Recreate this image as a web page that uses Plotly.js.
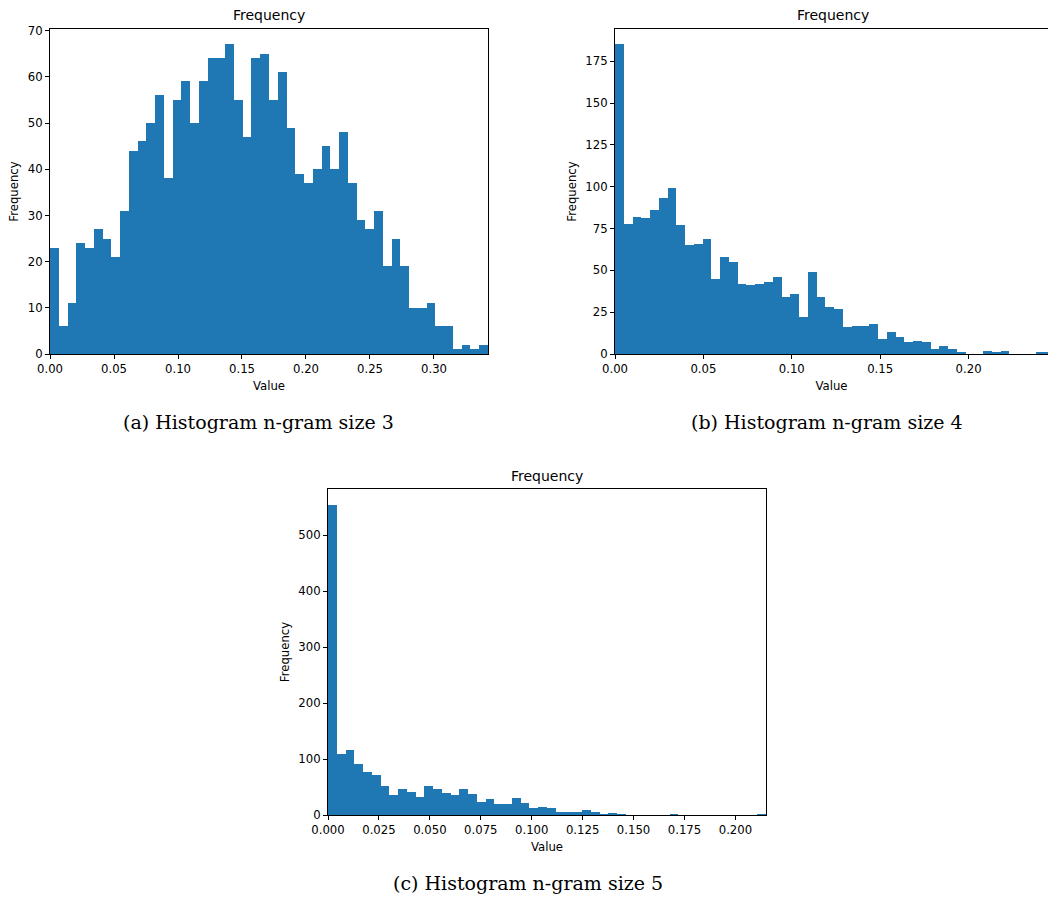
<!DOCTYPE html>
<html>
<head>
<meta charset="utf-8">
<script src="https://cdn.plot.ly/plotly-3.0.1.min.js"></script>
<style>
html,body{margin:0;padding:0;background:#fff;}
#chart{width:1048px;height:898px;}
</style>
</head>
<body>
<div id="chart"></div>
<script>
// ---- data (bin counts, 50 bins each) ----
const countsA = [23,6,11,24,23,27,25,21,31,44,46,50,56,38,55,59,50,59,64,64,67,55,47,64,65,55,61,49,39,37,40,45,40,48,37,29,27,31,19,25,19,10,10,11,6,6,1,2,1,2];
const rangeA = [0, 0.3422];

const countsB = [185,78,82,81,86,93,99,77,65,66,69,45,58,55,42,41,42,43,46,34,36,22,49,34,28,27,16,17,17,18,9,13,10,7,8,7,3,5,3,1,0,0,2,1,2,0,0,0,1,1];
const rangeB = [0, 0.2479];

const countsC = [555,109,116,91,77,71,52,36,46,42,33,52,46,39,36,47,38,23,28,19,19,30,22,12,14,12,6,6,6,9,6,2,3,1,0,0,0,0,0,1,0,0,0,0,0,0,0,0,0,1];
const rangeC = [0, 0.2150];

const panelTitle = "Frequency";
const xLabel = "Value";
const yLabel = "Frequency";
const captions = ["(a) Histogram n-gram size 3", "(b) Histogram n-gram size 4", "(c) Histogram n-gram size 5"];

// ---- helpers ----
const W = 1048, H = 898;
const px = v => v / W;
const py = v => (H - v) / H;
const BLUE = '#1f77b4';
const FONT = 'DejaVu Sans, sans-serif';
const SERIF = 'DejaVu Serif, serif';

function edges(counts, range) {
  const w = (range[1] - range[0]) / counts.length;
  return { x: counts.map((_, i) => range[0] + i * w), w: w };
}

function barTrace(counts, range, xa, ya) {
  const e = edges(counts, range);
  return {
    type: 'bar', x: e.x, y: counts, width: e.w, offset: 0,
    xaxis: xa, yaxis: ya,
    marker: { color: BLUE, line: { width: 0 } },
    hoverinfo: 'x+y', showlegend: false
  };
}

function xAxis(domain, range, dtick, fmt, anchor, standoff) {
  return {
    domain: domain, range: range, anchor: anchor,
    showline: true, linecolor: '#000', linewidth: 1, mirror: true,
    ticks: 'outside', ticklen: 4, tickwidth: 1, tickcolor: '#000',
    tick0: 0, dtick: dtick, tickformat: fmt,
    showgrid: false, zeroline: false,
    tickfont: { family: FONT, size: 11.7, color: '#000' },
    title: { text: xLabel, font: { family: FONT, size: 11.7, color: '#000' }, standoff: standoff }
  };
}
function yAxis(domain, range, dtick, anchor, mirror) {
  return {
    domain: domain, range: range, anchor: anchor,
    showline: true, linecolor: '#000', linewidth: 1, mirror: mirror,
    ticks: 'outside', ticklen: 4, tickwidth: 1, tickcolor: '#000',
    tick0: 0, dtick: dtick,
    showgrid: false, zeroline: false,
    tickfont: { family: FONT, size: 11.7, color: '#000' },
    title: { text: yLabel, font: { family: FONT, size: 11.7, color: '#000' }, standoff: 6 }
  };
}

const maxA = Math.max(...countsA) * 1.05;
const maxB = Math.max(...countsB) * 1.05;
const maxC = Math.max(...countsC) * 1.05;

const data = [
  barTrace(countsA, rangeA, 'x', 'y'),
  barTrace(countsB, rangeB, 'x2', 'y2'),
  barTrace(countsC, rangeC, 'x3', 'y3')
];

function titleAnn(x, y) {
  return { text: panelTitle, xref: 'paper', yref: 'paper', x: px(x), y: py(y), xanchor: 'center', yanchor: 'middle', showarrow: false, font: { family: FONT, size: 14, color: '#000' } };
}
function capAnn(text, x, y) {
  return { text: text, xref: 'paper', yref: 'paper', x: px(x), y: py(y), xanchor: 'center', yanchor: 'middle', showarrow: false, font: { family: SERIF, size: 19, color: '#000' } };
}

const layout = {
  width: W, height: H,
  margin: { l: 0, r: 0, t: 0, b: 0 },
  paper_bgcolor: '#fff', plot_bgcolor: '#fff',
  bargap: 0,
  xaxis: xAxis([px(50), px(488)], rangeA, 0.05, '.2f', 'y', 6),
  yaxis: yAxis([py(354), py(29)], [0, maxA], 10, 'x', true),
  xaxis2: xAxis([px(615), 1], [0, (1048 - 615) / 1768], 0.05, '.2f', 'y2', 6),
  yaxis2: yAxis([py(354), py(29)], [0, maxB], 25, 'x2', false),
  xaxis3: xAxis([px(328), px(766)], rangeC, 0.025, '.3f', 'y3', 6),
  yaxis3: yAxis([py(815), py(489)], [0, maxC], 100, 'x3', true),
  annotations: [
    titleAnn(269, 15), titleAnn(833, 15), titleAnn(547, 476),
    capAnn(captions[0], 258, 422), capAnn(captions[1], 827, 422), capAnn(captions[2], 528, 883)
  ]
};

Plotly.newPlot('chart', data, layout, { staticPlot: true, displayModeBar: false });
</script>
</body>
</html>
